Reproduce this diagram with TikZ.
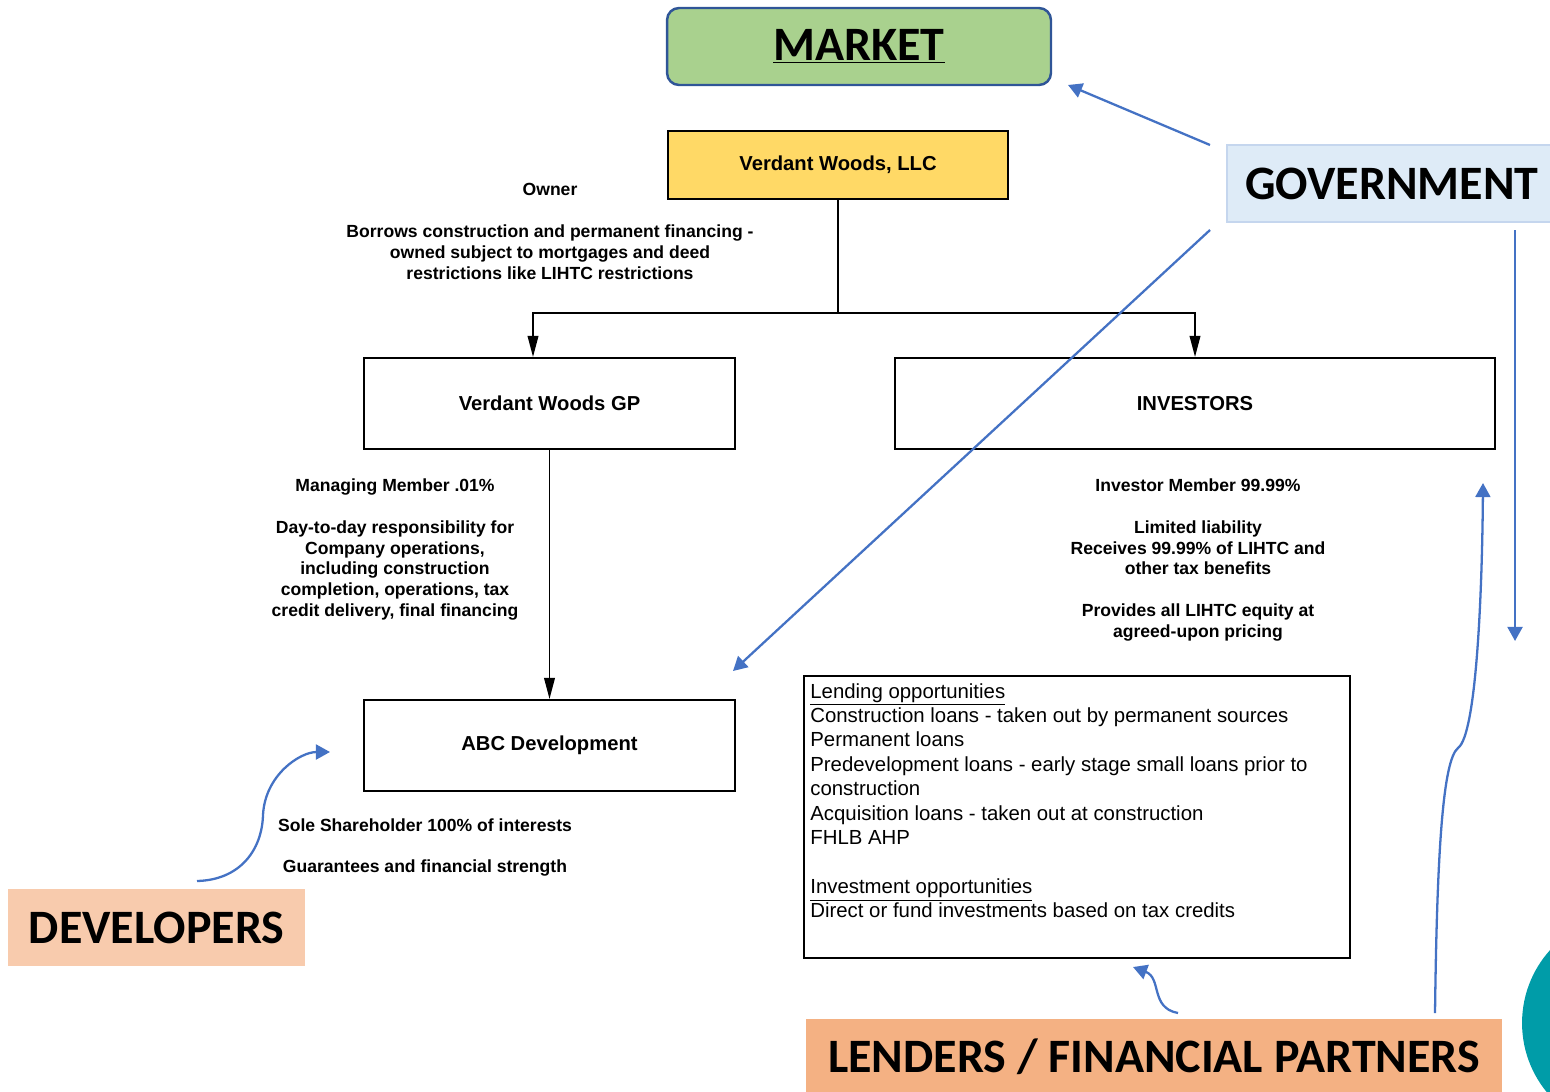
\documentclass[tikz,border=0pt]{standalone}
\usepackage{fontspec}
\setmainfont{Liberation Sans}
\newfontfamily\calibri{Carlito}
\usetikzlibrary{arrows.meta}

\definecolor{mktgreen}{HTML}{A9D18E}
\definecolor{mktedge}{HTML}{2F5597}
\definecolor{llcyellow}{HTML}{FFD966}
\definecolor{govblue}{HTML}{DEEBF7}
\definecolor{govedge}{HTML}{C5D6EE}
\definecolor{devpeach}{HTML}{F8CBAD}
\definecolor{lendorange}{HTML}{F4B183}
\definecolor{arrowblue}{HTML}{4472C4}
\definecolor{circleteal}{HTML}{009CA8}

\begin{document}
\begin{tikzpicture}[x=0.02cm, y=-0.02cm,
    box/.style={draw, line width=1.1pt, minimum width=7.42cm, minimum height=1.82cm, font=\fontsize{11.5}{13.8}\selectfont\bfseries},
    note/.style={align=center, font=\fontsize{10}{11.9}\selectfont\bfseries},
    bigtag/.style={font=\calibri\fontsize{27.3}{31}\selectfont\bfseries, minimum height=1.54cm, inner sep=0pt},
    flow/.style={line width=1.1pt, -{Triangle[length=12pt, width=6pt]}},
    blueflow/.style={arrowblue, line width=1.3pt, -{Triangle[length=8pt, width=8.5pt]}}]
        \useasboundingbox (0,0) rectangle (1550,1091);

        \fill[circleteal] (1631,1023) circle (2.18cm);

        \draw (859,46.5) node[draw=mktedge, fill=mktgreen, line width=1.4pt, rounded corners=0.24cm, minimum width=7.68cm, bigtag] (market) {\underline{MARKET}};
        \draw (838,165) node[box, fill=llcyellow, minimum width=6.8cm, minimum height=1.36cm] (llc) {Verdant Woods, LLC};
        \draw (549.5,403.5) node[box] (gp) {Verdant Woods GP};
        \draw (1195,403.5) node[box, minimum width=12cm] (inv) {INVESTORS};
        \draw (549.5,745.5) node[box] (abc) {ABC Development};
        \draw (1077,817) node[draw, line width=1.1pt, minimum width=10.92cm, minimum height=5.64cm] (lend) {};

        \draw (1392,183.5) node[draw=govedge, fill=govblue, line width=0.8pt, minimum width=6.6cm, bigtag] (gov) {GOVERNMENT};
        \draw (156.5,927.5) node[fill=devpeach, minimum width=5.94cm, bigtag] (dev) {DEVELOPERS};
        \draw (1154,1057) node[fill=lendorange, minimum width=13.92cm, minimum height=1.6cm, bigtag] (lenders) {LENDERS / FINANCIAL PARTNERS};

        \draw (550,189) node[note] (owner) {Owner};
        \draw (550,252) node[note] (borrow) {Borrows construction and permanent financing -\\owned subject to mortgages and deed\\restrictions like LIHTC restrictions};
        \draw (395,549.5) node[note] (mgr) {Managing Member .01\%\\[11.9pt]Day-to-day responsibility for\\Company operations,\\including construction\\completion, operations, tax\\credit delivery, final financing};
        \draw (1198,560) node[note] (invnote) {Investor Member 99.99\%\\[11.9pt]Limited liability\\Receives 99.99\% of LIHTC and\\other tax benefits\\[11.9pt]Provides all LIHTC equity at\\agreed-upon pricing};
        \draw (425,847.5) node[note] (sole) {Sole Shareholder 100\% of interests\\[11.9pt]Guarantees and financial strength};
        \draw (810,683) node[anchor=north west, inner sep=0pt, align=left, font=\fontsize{11.6}{13.9}\selectfont] (lendtext) {\underline{Lending opportunities}\\Construction loans - taken out by permanent sources\\Permanent loans\\Predevelopment loans - early stage small loans prior to\\construction\\Acquisition loans - taken out at construction\\FHLB AHP\\[13.9pt]\underline{Investment opportunities}\\Direct or fund investments based on tax credits};

        \coordinate (split) at (838,313);
        \draw[line width=1.1pt] (llc.south) -- (split);
        \draw[flow] (split) -| ([xshift=-0.33cm]gp.north);
        \draw[flow] (split) -| (inv.north);
        \draw[flow] (gp.south) -- (abc.north);

        \coordinate (govA) at (1210,145);
        \coordinate (mktend) at (1068,85);
        \coordinate (govB) at (1210,230);
        \coordinate (abcend) at (733,671);
        \coordinate (govC) at (1515,230);
        \coordinate (govend) at (1515,641);
        \coordinate (lendA) at (1435,1013);
        \coordinate (invend) at (1483,483);
        \coordinate (lendB) at (1178,1013);
        \coordinate (boxend) at (1133,967);
        \coordinate (devA) at (197,881);
        \coordinate (devend) at (330,752);

        \draw[blueflow] (govA) -- (mktend);
        \draw[blueflow] (govB) -- (abcend);
        \draw[blueflow] (govC) -- (govend);
        \draw[blueflow] (lendA) .. controls (1437,850) and (1443,760) .. (1458,748) .. controls (1476,735) and (1482,600) .. (invend);
        \draw[blueflow] (lendB) .. controls (1150,1008) and (1162,978) .. (boxend);
        \draw[blueflow] (devA) .. controls (240,880) and (262,850) .. (263,815) .. controls (265,775) and (300,752) .. (devend);
    \end{tikzpicture}
\end{document}
